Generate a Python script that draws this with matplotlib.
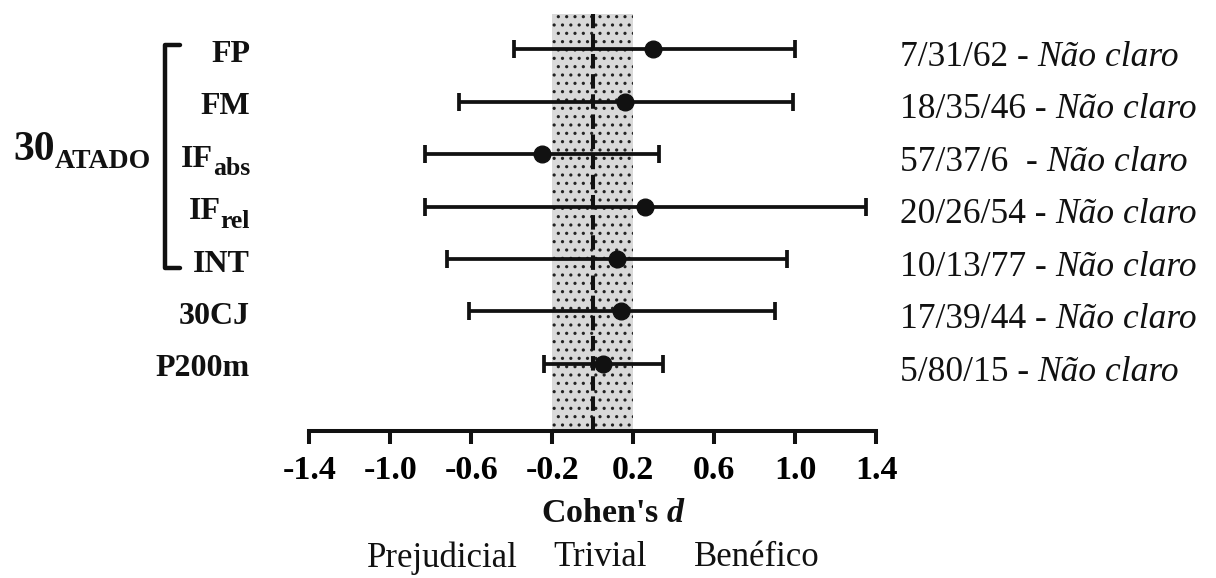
import matplotlib
matplotlib.use('Agg')
import matplotlib.pyplot as plt
import matplotlib.transforms as mtransforms
import numpy as np

plt.rcParams['font.family'] = 'Liberation Serif'
plt.rcParams['mathtext.fontset'] = 'custom'
plt.rcParams['mathtext.rm'] = 'Liberation Serif:bold'
plt.rcParams['mathtext.it'] = 'Liberation Serif:italic:bold'
plt.rcParams['hatch.linewidth'] = 1.1

# Data
labels = ['FP', 'FM', 'IF', 'IF', 'INT', '30CJ', 'P200m']
subs = ['', '', 'abs', 'rel', '', '', '']
effect = [0.30, 0.16, -0.25, 0.26, 0.12, 0.14, 0.05]
ci_low = [-0.39, -0.66, -0.83, -0.83, -0.72, -0.61, -0.24]
ci_high = [1.00, 0.99, 0.33, 1.35, 0.96, 0.90, 0.35]
chances = ['7/31/62', '18/35/46', '57/37/6 ', '20/26/54', '10/13/77', '17/39/44', '5/80/15']
outcome = ['Não claro'] * 7
trivial = (-0.2, 0.2)
xticks = [-1.4, -1.0, -0.6, -0.2, 0.2, 0.6, 1.0, 1.4]
xticklabels = ['-1.4', '-1.0', '-0.6', '-0.2', '0.2', '0.6', '1.0', '1.4']
zones = ['Prejudicial', 'Trivial', 'Benéfico']

ink = '#111111'
W, H = 1216, 578

fig = plt.figure(figsize=(12.16, 5.78), dpi=100)
ax = fig.add_axes([309.3 / W, 1 - 431 / H, (876 - 309.3) / W, (431 - 14) / H])

ypos = np.arange(len(effect))
eff = np.array(effect)
xerr = [eff - np.array(ci_low), np.array(ci_high) - eff]

# trivial zone, dotted grey band
ax.axvspan(trivial[0], trivial[1], facecolor='#d9d9d9', edgecolor='#222222',
           hatch='..', linewidth=0, zorder=0)
ax.axvline(0, color=ink, lw=2.9, dashes=(3.6, 1.4), zorder=2)

ax.errorbar(eff, ypos, xerr=xerr, fmt='o', color=ink, ms=12, lw=2.7,
            capsize=6.8, capthick=2.7, zorder=3)

ax.set_xlim(-1.4, 1.4)
ax.set_ylim(7.28, -0.673)
ax.set_yticks([])
ax.set_xticks(xticks)
ax.set_xticklabels(xticklabels)
for s in ['top', 'left', 'right']:
    ax.spines[s].set_visible(False)
ax.spines['bottom'].set_linewidth(2.9)
ax.spines['bottom'].set_color(ink)
ax.tick_params(axis='x', length=9, width=2.9, pad=8, labelsize=24.5, color=ink)
for lbl in ax.get_xticklabels():
    lbl.set_fontweight('bold')

# figure-x / data-y transform for the side labels
tl = mtransforms.blended_transform_factory(fig.transFigure, ax.transData)

for i, (lab, sub) in enumerate(zip(labels, subs)):
    if sub:
        st = ax.text(250 / W, i + 0.40, sub, transform=tl, ha='right',
                     va='baseline', fontsize=18.5, fontweight='bold', color=ink)
        ax.annotate(lab, xy=(0, i + 0.24), xycoords=(st, 'data'), ha='right',
                    va='baseline', fontsize=23, fontweight='bold', color=ink)
    else:
        ax.text(250 / W, i + 0.24, lab, transform=tl, ha='right', va='baseline',
                fontsize=23, fontweight='bold', color=ink)

# 30 ATADO group label and bracket
t30 = ax.text(13 / W, 2.11, '30', transform=tl, ha='left', va='baseline',
              fontsize=30, fontweight='bold', color=ink)
ax.annotate('ATADO', xy=(1, 2.26), xycoords=(t30, 'data'), ha='left',
            va='baseline', fontsize=20, fontweight='bold', color=ink)
ax.plot([180 / W, 165 / W, 165 / W, 180 / W], [-0.08, -0.08, 4.17, 4.17],
        transform=tl, color=ink, lw=3.2, clip_on=False,
        solid_capstyle='round', solid_joinstyle='round')

# chances text on the right
for i, (ch, out) in enumerate(zip(chances, outcome)):
    t = ax.text(900 / W, i + 0.32, ch + ' -', transform=tl, ha='left',
                va='baseline', fontsize=25.5, color=ink)
    ax.annotate(out, xy=(1, i + 0.32), xycoords=(t, 'data'), xytext=(6, 0),
                textcoords='offset points', ha='left', va='baseline',
                fontsize=25.5, style='italic', color=ink)

fig.text(614 / W, 1 - 513 / H, "Cohen's $d$", ha='center', va='center',
         fontsize=24.5, fontweight='bold', color=ink)
for z, xp in zip(zones, [442, 600, 757]):
    fig.text(xp / W, 1 - 558 / H, z, ha='center', va='center', fontsize=25,
             color=ink)

fig.savefig('out.png', dpi=100)
